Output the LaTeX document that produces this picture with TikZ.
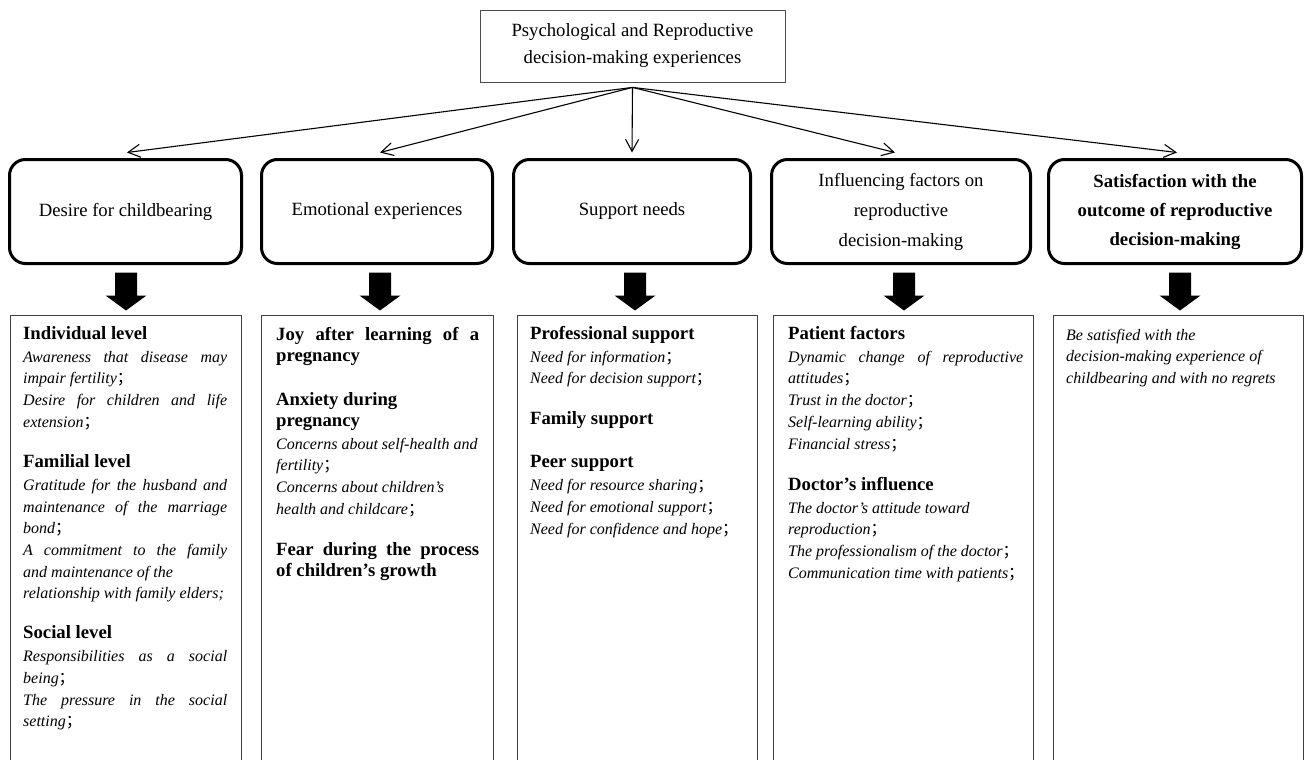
\documentclass[tikz,border=0pt]{standalone}
\usepackage{fontspec}
\setmainfont{Liberation Serif}
\newfontfamily\cjkfont{Noto Sans CJK SC}
\usetikzlibrary{arrows.meta,calc}
\newcommand{\fsc}{{\cjkfont ；}}
\newcommand{\hdfont}{\fontsize{18.7}{21}\selectfont\bfseries}
\newcommand{\itfont}{\fontsize{16}{21.7}\selectfont\itshape}
\newcommand{\Hd}[1]{\hbox{\hdfont #1}}
\newcommand{\HJ}[1]{\hbox to\hsize{\hdfont #1}}
\newcommand{\Li}[1]{\hbox{\itfont #1}}
\newcommand{\Ji}[1]{\hbox to\hsize{\itfont #1}}
\newcommand{\Col}[2]{\vbox{\hsize=#1pt \baselineskip=21.7pt \lineskip=0pt \lineskiplimit=-100pt \parindent=0pt \hbox{}#2}}
\newcommand{\BA}[2]{\fill ($(#1.south)+(#2-11,7.5)$) -- ++(22,0) -- ++(0,23) -- ++(9.5,0) -- ++(-20.5,15) -- ++(-20.5,-15) -- ++(9.5,0) -- cycle;}
\tikzset{
  rbox/.style={draw, line width=3pt, rounded corners=16pt, minimum height=104pt, align=center, font=\fontsize{18.7}{30}\selectfont},
  topbox/.style={draw=black!70, line width=0.8pt, minimum width=305pt, minimum height=72pt, align=center, font=\fontsize{18.7}{27}\selectfont},
  conn/.style={line width=1.1pt, -{Straight Barb[length=12pt,width=13pt]}},
  frame/.style={draw=none, inner sep=0pt, anchor=north west, minimum height=445pt},
  frameline/.style={draw=black!75, line width=0.9pt},
  coltext/.style={anchor=north west, inner sep=0pt}
}
\begin{document}
\begin{tikzpicture}[x=1pt,y=-1pt]
\useasboundingbox (0,0) rectangle (1306,760);
\node[topbox] (top) at (632.5,46) {Psychological and Reproductive\\decision-making experiences};
\coordinate (hub) at ($(top.south)+(0,5)$);

\node[rbox, minimum width=232pt] (b1) at (125.5,211.5) {Desire for childbearing};
\node[rbox, minimum width=231pt] (b2) at (377,211.5) {Emotional experiences};
\node[rbox, minimum width=237pt] (b3) at (632,211.5) {Support needs};
\node[rbox, minimum width=259pt] (b4) at (901,211.5) {Influencing factors on\\reproductive\\decision-making};
\node[rbox, minimum width=253pt, font=\fontsize{18.7}{29}\selectfont\bfseries] (b5) at (1175,211.5) {Satisfaction with the\\outcome of reproductive\\decision-making};

\foreach \b/\dx/\ax in {b1/1.5/0.5, b2/3/3, b3/0/3, b4/-6/3, b5/2/5}{
  \draw[conn] (hub) -- ($(\b.north)+(\dx,-5.5)$);
  \BA{\b}{\ax}
}

\node[frame, minimum width=231pt] (t1) at (10,315) {};
\node[frame, minimum width=232pt] (t2) at (261,315) {};
\node[frame, minimum width=240pt] (t3) at (517,315) {};
\node[frame, minimum width=260pt] (t4) at (773,315) {};
\node[frame, minimum width=250pt] (t5) at (1053,315) {};
\foreach \t in {t1,t2,t3,t4,t5}{
  \draw[frameline] (\t.south west) -- (\t.north west) -- (\t.north east) -- (\t.south east);
}

\node[coltext] (c1) at (23,317.3) {\Col{204}{%
\Hd{Individual level}\vskip1.3pt
\Ji{Awareness that disease may}
\Li{impair fertility\fsc}
\Ji{Desire for children and life}
\Li{extension\fsc}
\vskip18.3pt
\Hd{Familial level}\vskip1.3pt
\Ji{Gratitude for the husband and}
\Ji{maintenance of the marriage}
\Li{bond\fsc}
\Ji{A commitment to the family}
\Li{and maintenance of the}
\Li{relationship with family elders;}
\vskip18.3pt
\Hd{Social level}\vskip1.3pt
\Ji{Responsibilities as a social}
\Li{being\fsc}
\Ji{The pressure in the social}
\Li{setting\fsc}
}};

\node[coltext] (c2) at (276,318.3) {\Col{203}{%
\HJ{Joy after learning of a}\vskip-0.7pt
\Hd{pregnancy}
\vskip22.3pt
\Hd{Anxiety during}\vskip-0.7pt
\Hd{pregnancy}\vskip1.3pt
\Li{Concerns about self-health and}
\Li{fertility\fsc}
\Li{Concerns about children’s}
\Li{health and childcare\fsc}
\vskip19.3pt
\HJ{Fear during the process}\vskip-0.7pt
\Hd{of children’s growth}
}};

\node[coltext] (c3) at (530,317.3) {\Col{220}{%
\Hd{Professional support}\vskip1.3pt
\Li{Need for information\fsc}
\Li{Need for decision support\fsc}
\vskip19.3pt
\Hd{Family support}
\vskip21.3pt
\Hd{Peer support}\vskip1.3pt
\Li{Need for resource sharing\fsc}
\Li{Need for emotional support\fsc}
\Li{Need for confidence and hope\fsc}
}};

\node[coltext] (c4) at (788,317.3) {\Col{235}{%
\Hd{Patient factors}\vskip1.3pt
\Ji{Dynamic change of reproductive}
\Li{attitudes\fsc}
\Li{Trust in the doctor\fsc}
\Li{Self-learning ability\fsc}
\Li{Financial stress\fsc}
\vskip19.3pt
\Hd{Doctor’s influence}\vskip1.3pt
\Li{The doctor’s attitude toward}
\Li{reproduction\fsc}
\Li{The professionalism of the doctor\fsc}
\Li{Communication time with patients\fsc}
}};

\node[coltext] (c5) at (1066,318.3) {\Col{220}{%
\Li{Be satisfied with the}
\Li{decision-making experience of}
\Li{childbearing and with no regrets}
}};
\end{tikzpicture}
\end{document}
